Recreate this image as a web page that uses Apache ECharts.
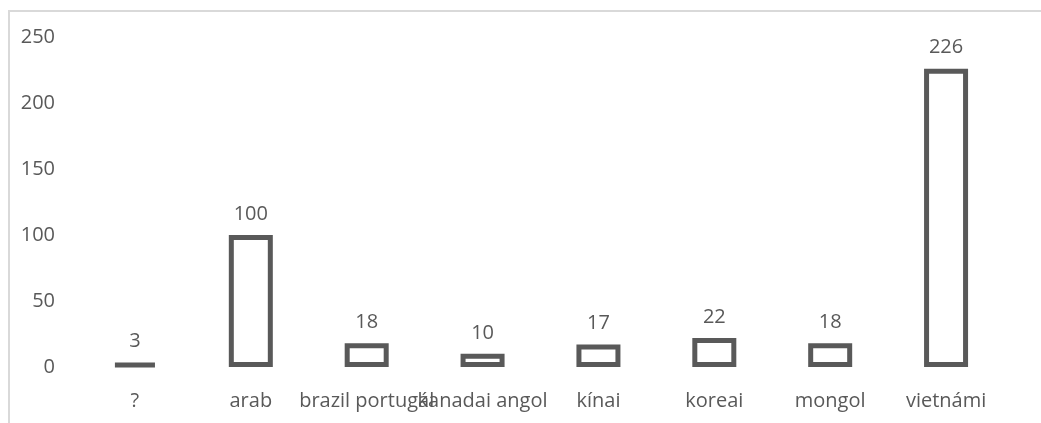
<!DOCTYPE html>
<html>
<head>
<meta charset="utf-8">
<script src="https://cdn.jsdelivr.net/npm/echarts@6/dist/echarts.min.js"></script>
<style>
  html, body { margin: 0; padding: 0; background: #fff; }
  #chart { width: 1041px; height: 423px; }
</style>
</head>
<body>
<div id="chart"></div>
<script>
const categories = ["?", "arab", "brazil portugál", "kanadai angol", "kínai", "koreai", "mongol", "vietnámi"];
const values = [3, 100, 18, 10, 17, 22, 18, 226];
const yTicks = { min: 0, max: 250, interval: 50 };

const chart = echarts.init(document.getElementById("chart"));
const textColor = "#595959";
const font = "'Open Sans', sans-serif";

chart.setOption({
  animation: false,
  textStyle: { fontFamily: font },
  graphic: [
    {
      type: "polyline",
      shape: { points: [[9, 423], [9, 11], [1041, 11]] },
      style: { stroke: "#d9d9d9", lineWidth: 2, fill: null },
    },
  ],
  grid: { left: 77, right: 37, top: 37, bottom: 56 },
  xAxis: {
    type: "category",
    data: categories,
    axisLine: { show: false },
    axisTick: { show: false },
    axisLabel: { interval: 0, color: textColor, fontSize: 20, margin: 24, fontFamily: font },
  },
  yAxis: {
    type: "value",
    min: yTicks.min,
    max: yTicks.max,
    interval: yTicks.interval,
    splitLine: { show: false },
    axisLine: { show: false },
    axisTick: { show: false },
    axisLabel: { color: textColor, fontSize: 20, margin: 22, fontFamily: font },
  },
  series: [
    {
      type: "bar",
      data: values,
      barWidth: 44,
      itemStyle: { color: "#fff", borderColor: "#595959", borderWidth: 5 },
      label: { show: true, position: "top", distance: 11, color: textColor, fontSize: 20, fontFamily: font },
    },
  ],
});
</script>
</body>
</html>
